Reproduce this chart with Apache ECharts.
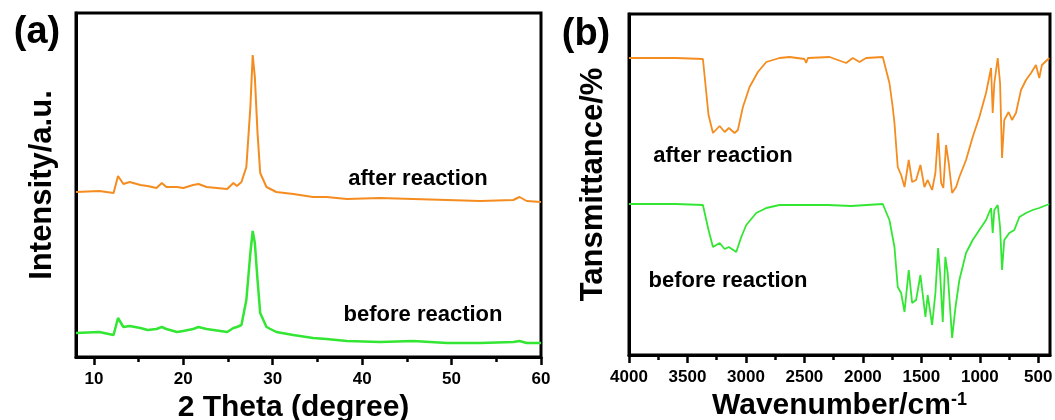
<!DOCTYPE html>
<html>
<head>
<meta charset="utf-8">
<script src="https://cdn.jsdelivr.net/npm/echarts@6/dist/echarts.min.js"></script>
<style>
  html, body { margin: 0; padding: 0; background: #fff; }
  #chart { width: 1055px; height: 420px; }
</style>
</head>
<body>
<div id="chart"></div>
<script>
  // (a) XRD, 2 theta in degree, intensity in a.u.
  var xrdTheta = [8.0, 10.6, 12.2, 12.7, 13.3, 14.0, 15.2, 16.0, 17.0, 17.6, 18.1, 19.3, 20.0, 21.1, 21.7, 22.6, 24.9, 25.6, 26.0, 26.5,
    27.05, 27.5, 27.76, 28.0, 28.3, 28.6, 29.3, 30.4, 32.3, 34.5, 36.0, 38.3, 42.0, 45.7, 49.5, 53.2, 56.9, 57.6, 58.4, 60.0];
  var xrdAfter = [165, 166, 164, 181, 173, 175, 172, 171, 169, 174, 170, 170, 169, 172, 173, 170, 168, 174, 171, 175,
    190, 250, 302, 280, 224, 184, 170, 165, 163, 160, 160, 158, 159, 158, 157, 156, 157, 160, 156, 155];
  var xrdBefore = [24, 25, 22, 39, 30, 31, 29, 27, 28, 30, 28, 25, 26, 28, 30, 28, 25, 29, 30, 32,
    57, 104, 126, 114, 77, 44, 30, 25, 22, 19, 18, 16, 15, 16, 14, 14, 15, 16, 14, 14];
  var xrdMajorTicks = [10, 20, 30, 40, 50, 60];
  var xrdMinorTicks = [15, 25, 35, 45, 55];

  // (b) FTIR, wavenumber in cm-1, transmittance
  var irWnAfter = [4000, 3600, 3368, 3320, 3282, 3225, 3182, 3146, 3097, 3069, 3026, 2969, 2898, 2826, 2713, 2627, 2500, 2485, 2470, 2285,
    2143, 2086, 2029, 1972, 1830, 1773, 1745, 1730, 1702, 1673, 1644, 1608, 1579, 1545, 1508, 1474, 1446, 1408, 1380, 1357,
    1331, 1312, 1289, 1266, 1237, 1203, 1175, 1118, 1061, 1004, 947, 904, 890, 876, 847, 827, 810, 791, 754, 725,
    691, 648, 605, 562, 520, 492, 469, 406];
  var irAfter = [297, 297, 296, 240, 222, 229, 223, 227, 222, 225, 248, 268, 283, 293, 297, 298, 296, 292, 297, 298,
    292, 297, 293, 297, 298, 272, 248, 232, 188, 180, 168, 195, 173, 175, 190, 168, 175, 165, 182, 222,
    172, 167, 210, 192, 162, 168, 178, 195, 218, 238, 262, 287, 242, 272, 297, 272, 197, 235, 243, 235,
    242, 265, 275, 282, 290, 277, 290, 297];
  var irWnBefore = [4000, 3600, 3368, 3320, 3282, 3225, 3182, 3146, 3083, 3040, 2997, 2912, 2826, 2713, 2500, 2485, 2470, 2300, 2100, 1830,
    1773, 1730, 1702, 1673, 1644, 1608, 1579, 1545, 1508, 1465, 1446, 1408, 1380, 1357, 1340, 1317, 1295, 1275, 1237, 1208,
    1175, 1118, 1061, 1004, 947, 904, 890, 876, 847, 827, 810, 791, 748, 705, 662, 605, 548, 492, 406];
  var irBefore = [151, 151, 150, 125, 108, 112, 106, 108, 103, 118, 130, 142, 147, 150, 150, 148, 150, 150, 149, 151,
    135, 108, 68, 62, 43, 85, 52, 55, 80, 38, 60, 30, 62, 107, 82, 33, 98, 82, 17, 48,
    75, 102, 115, 125, 135, 147, 122, 145, 150, 128, 85, 115, 122, 125, 138, 142, 145, 147, 151];
  var irMajorTicks = [4000, 3500, 3000, 2500, 2000, 1500, 1000, 500];
  var irMinorTicks = [3750, 3250, 2750, 2250, 1750, 1250, 750];

  var ORANGE = '#F48C1F';
  var GREEN = '#33E633';
  var FONT = '"Liberation Sans", Arial, sans-serif';

  function pairs(xs, ys) {
    return xs.map(function (x, i) { return [x, ys[i]]; });
  }

  function mainX(grid, min, max, inverse, ticks, name, nameStyle, gap) {
    return {
      type: 'value', gridIndex: grid, position: 'bottom', min: min, max: max, inverse: inverse,
      axisLine: { show: true, lineStyle: { color: '#000', width: 3 } },
      axisTick: { show: true, length: 8, lineStyle: { color: '#000', width: 2.5 }, customValues: ticks },
      axisLabel: {
        show: true, customValues: ticks, margin: 14, color: '#000', fontSize: 17, fontWeight: 'bold', fontFamily: FONT,
        formatter: function (v) { return String(v); }
      },
      splitLine: { show: false },
      name: name, nameLocation: 'middle', nameGap: gap, nameTextStyle: nameStyle
    };
  }

  // second axis on the same grid, only for the short ticks between the labels
  function minorX(grid, min, max, inverse, ticks) {
    return {
      type: 'value', gridIndex: grid, position: 'bottom', min: min, max: max, inverse: inverse,
      axisLine: { show: false },
      axisTick: { show: true, length: 5, lineStyle: { color: '#000', width: 2.5 }, customValues: ticks },
      axisLabel: { show: false, customValues: ticks },
      splitLine: { show: false }
    };
  }

  function yAx(grid, max, name, gap) {
    return {
      type: 'value', gridIndex: grid, min: 0, max: max,
      axisLine: { show: true, lineStyle: { color: '#000', width: 3 } },
      axisTick: { show: false }, axisLabel: { show: false }, splitLine: { show: false },
      name: name, nameLocation: 'middle', nameGap: gap, nameRotate: 90,
      nameTextStyle: { color: '#000', fontSize: 31, fontWeight: 'bold', fontFamily: FONT }
    };
  }

  function label(text, x, y, size) {
    return {
      type: 'text', x: x, y: y,
      style: { text: text, fill: '#000', font: 'bold ' + size + 'px ' + FONT, align: 'center', verticalAlign: 'middle' }
    };
  }

  var chart = echarts.init(document.getElementById('chart'), null, { renderer: 'canvas' });

  var option = {
    animation: false,
    backgroundColor: '#fff',
    grid: [
      { left: 76, top: 13, width: 465, height: 344, outerBoundsMode: 'none', containLabel: false,
        show: true, borderColor: '#000', borderWidth: 3 },
      { left: 629, top: 14, width: 421, height: 341, outerBoundsMode: 'none', containLabel: false,
        show: true, borderColor: '#000', borderWidth: 3 }
    ],
    xAxis: [
      mainX(0, 8, 60, false, xrdMajorTicks, '2 Theta (degree)',
        { color: '#000', fontSize: 30, fontWeight: 'bold', fontFamily: FONT, padding: [0, 30, 0, 0] }, 21),
      minorX(0, 8, 60, false, xrdMinorTicks),
      mainX(1, 400, 4000, true, irMajorTicks, '{m|Wavenumber/cm}{s|-1}',
        {
          color: '#000', fontFamily: FONT,
          rich: {
            m: { fontSize: 30, fontWeight: 'bold', fontFamily: FONT, color: '#000' },
            s: { fontSize: 18, fontWeight: 'bold', fontFamily: FONT, color: '#000', verticalAlign: 'top' }
          }
        }, 32),
      minorX(1, 400, 4000, true, irMinorTicks)
    ],
    yAxis: [
      yAx(0, 344, 'Intensity/a.u.', 18),
      yAx(1, 341, 'Tansmittance/%', 20)
    ],
    series: [
      { name: 'XRD after reaction', type: 'line', xAxisIndex: 0, yAxisIndex: 0, showSymbol: false,
        lineStyle: { color: ORANGE, width: 2 }, data: pairs(xrdTheta, xrdAfter) },
      { name: 'XRD before reaction', type: 'line', xAxisIndex: 0, yAxisIndex: 0, showSymbol: false,
        lineStyle: { color: GREEN, width: 2.5 }, data: pairs(xrdTheta, xrdBefore) },
      { name: 'FTIR after reaction', type: 'line', xAxisIndex: 2, yAxisIndex: 1, showSymbol: false,
        lineStyle: { color: ORANGE, width: 1.8 }, data: pairs(irWnAfter, irAfter) },
      { name: 'FTIR before reaction', type: 'line', xAxisIndex: 2, yAxisIndex: 1, showSymbol: false,
        lineStyle: { color: GREEN, width: 1.8 }, data: pairs(irWnBefore, irBefore) }
    ],
    graphic: [
      label('(a)', 37, 33, 38),
      label('(b)', 586, 35, 38),
      label('after reaction', 418, 179, 22),
      label('before reaction', 423, 315, 22),
      label('after reaction', 723, 156, 22),
      label('before reaction', 728, 281, 22)
    ]
  };

  chart.setOption(option);
</script>
</body>
</html>
